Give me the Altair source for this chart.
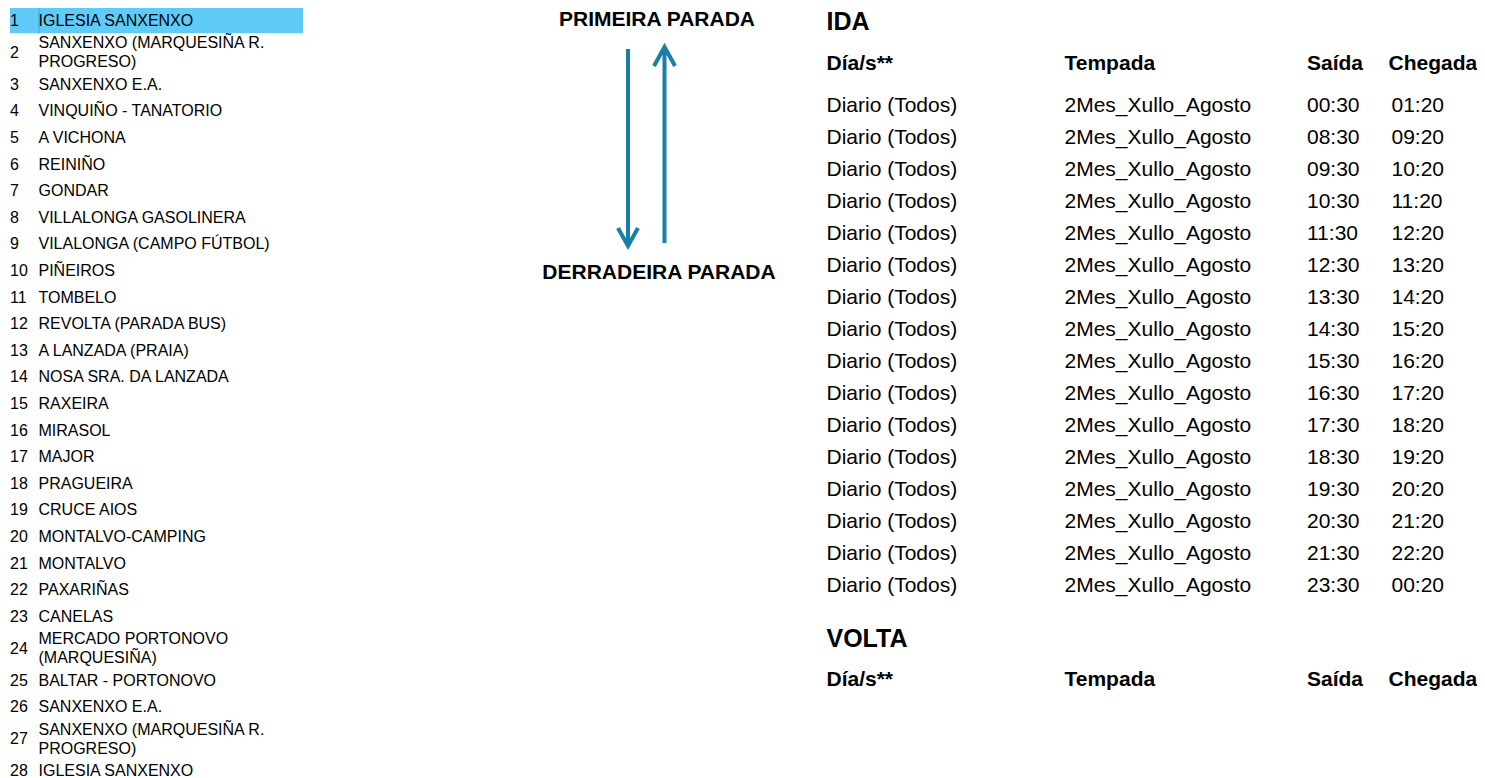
import altair as alt
import pandas as pd

FONT = "Liberation Sans"

# ---------------- data ----------------
stop_numbers = list(range(1, 29))
stop_names = [
    "IGLESIA SANXENXO",
    "SANXENXO (MARQUESIÑA R.\nPROGRESO)",
    "SANXENXO E.A.",
    "VINQUIÑO - TANATORIO",
    "A VICHONA",
    "REINIÑO",
    "GONDAR",
    "VILLALONGA GASOLINERA",
    "VILALONGA (CAMPO FÚTBOL)",
    "PIÑEIROS",
    "TOMBELO",
    "REVOLTA (PARADA BUS)",
    "A LANZADA (PRAIA)",
    "NOSA SRA. DA LANZADA",
    "RAXEIRA",
    "MIRASOL",
    "MAJOR",
    "PRAGUEIRA",
    "CRUCE AIOS",
    "MONTALVO-CAMPING",
    "MONTALVO",
    "PAXARIÑAS",
    "CANELAS",
    "MERCADO PORTONOVO\n(MARQUESIÑA)",
    "BALTAR - PORTONOVO",
    "SANXENXO E.A.",
    "SANXENXO (MARQUESIÑA R.\nPROGRESO)",
    "IGLESIA SANXENXO",
]
highlighted_stop = 1

ida_title = "IDA"
volta_title = "VOLTA"
headers = ["Día/s**", "Tempada", "Saída", "Chegada"]
dias = ["Diario (Todos)", "Diario (Todos)", "Diario (Todos)", "Diario (Todos)",
        "Diario (Todos)", "Diario (Todos)", "Diario (Todos)", "Diario (Todos)",
        "Diario (Todos)", "Diario (Todos)", "Diario (Todos)", "Diario (Todos)",
        "Diario (Todos)", "Diario (Todos)", "Diario (Todos)", "Diario (Todos)"]
tempadas = ["2Mes_Xullo_Agosto"] * 16
saidas = ["00:30", "08:30", "09:30", "10:30", "11:30", "12:30", "13:30", "14:30",
          "15:30", "16:30", "17:30", "18:30", "19:30", "20:30", "21:30", "23:30"]
chegadas = ["01:20", "09:20", "10:20", "11:20", "12:20", "13:20", "14:20", "15:20",
            "16:20", "17:20", "18:20", "19:20", "20:20", "21:20", "22:20", "00:20"]

first_stop_label = "PRIMEIRA PARADA"
last_stop_label = "DERRADEIRA PARADA"

# ---------------- layout / style ----------------
W, H = 1469, 772
ARROW = "#177fa8"
HILITE = "#5ecbf9"
ROW_UNIT = 26.6         # px per single-line stop row
DOUBLE = 1.4            # height of a two-line row, in row units
LINE_H = 19

# stop list table: cumulative row positions in "row units"
heights = [DOUBLE if "\n" in n else 1.0 for n in stop_names]
tops = []
acc = 0.0
for h in heights:
    tops.append(acc)
    acc += h
total_units = acc
stops = pd.DataFrame({
    "num": [str(n) for n in stop_numbers],
    "name": stop_names,
    "lines": [n.count("\n") + 1 for n in stop_names],
    "top": tops,
    "bottom": [t + h for t, h in zip(tops, heights)],
    "mid": [t + h / 2 for t, h in zip(tops, heights)],
})
stop_scale = alt.Scale(domain=[0, total_units],
                       range=[-1.3, -1.3 + total_units * ROW_UNIT])

num_layer = alt.Chart(stops).mark_text(
    font=FONT, fontSize=16, align="left", baseline="middle", dy=1, color="#000"
).encode(x=alt.value(2), y=alt.Y("mid:Q", scale=stop_scale, axis=None), text="num:N")

name_single = alt.Chart(stops[stops["lines"] == 1]).mark_text(
    font=FONT, fontSize=16, align="left", baseline="middle", dy=1, color="#000"
).encode(x=alt.value(30.5), y=alt.Y("mid:Q", scale=stop_scale, axis=None), text="name:N")

name_double = alt.Chart(stops[stops["lines"] == 2]).mark_text(
    font=FONT, fontSize=16, align="left", baseline="middle", dy=1 - LINE_H / 2,
    color="#000", lineBreak="\n", lineHeight=LINE_H
).encode(x=alt.value(30.5), y=alt.Y("mid:Q", scale=stop_scale, axis=None), text="name:N")

hl = stops[stops["num"] == str(highlighted_stop)]
hl_rect = alt.Chart(hl).mark_rect(color=HILITE).encode(
    x=alt.value(2), x2=alt.value(295),
    y=alt.Y("top:Q", scale=stop_scale, axis=None), y2="bottom:Q")
hl_sep = alt.Chart(hl).mark_rule(color="#3fa9dc", strokeWidth=1).encode(
    x=alt.value(31), y=alt.Y("top:Q", scale=stop_scale, axis=None), y2="bottom:Q")

# ---------------- timetable ----------------
tt = pd.DataFrame({"row": list(range(len(saidas))), "dia": dias, "tempada": tempadas,
                   "saida": saidas, "chegada": chegadas})
tt_scale = alt.Scale(domain=[0, len(saidas) - 1], range=[103.5, 103.5 + 32 * (len(saidas) - 1)])
col_x = [818.5, 1056.5, 1299, 1383.5]
head_x = [818.5, 1056.5, 1299, 1380.5]
col_fields = ["dia", "tempada", "saida", "chegada"]
tt_layers = [
    alt.Chart(tt).mark_text(font=FONT, fontSize=21, align="left",
                            baseline="alphabetic", color="#000").encode(
        x=alt.value(cx), y=alt.Y("row:Q", scale=tt_scale, axis=None), text=f"{f}:N")
    for cx, f in zip(col_x, col_fields)
]

one = pd.DataFrame({"k": [0]})


def label(text, x, y, size, bold=True, align="left", baseline="alphabetic"):
    return alt.Chart(one).mark_text(
        font=FONT, fontSize=size, fontWeight="bold" if bold else "normal",
        align=align, baseline=baseline, color="#000", text=text
    ).encode(x=alt.value(x), y=alt.value(y))


title_layers = [label(ida_title, 818.5, 22, 25), label(volta_title, 818.5, 639, 25)]
for cx, htxt in zip(head_x, headers):
    title_layers.append(label(htxt, cx, 61.5, 21))
    title_layers.append(label(htxt, cx, 677.5, 21))

first_lbl = label(first_stop_label, 649, 12, 21, align="center", baseline="middle")
last_lbl = label(last_stop_label, 651, 265, 21, align="center", baseline="middle")
clip = alt.Chart(one).mark_rect(color="white").encode(
    x=alt.value(515), x2=alt.value(533), y=alt.value(247), y2=alt.value(284))

down_arrow = alt.Chart(one).mark_point(
    shape="M0,-9.85L0,9.85M-1,8.05L0,9.85L1,8.05", filled=False, strokeWidth=4,
    size=400, color=ARROW, opacity=1, strokeJoin="miter"
).encode(x=alt.value(620), y=alt.value(139.5))
up_arrow = alt.Chart(one).mark_point(
    shape="M0,9.8L0,-9.8M-1.05,-7.9L0,-9.8L1.05,-7.9", filled=False, strokeWidth=4,
    size=400, color=ARROW, opacity=1, strokeJoin="miter"
).encode(x=alt.value(656.5), y=alt.value(137))

chart = alt.layer(
    hl_rect, hl_sep, num_layer, name_single, name_double,
    *tt_layers, *title_layers,
    first_lbl, last_lbl, clip, down_arrow, up_arrow
).resolve_scale(y="independent").properties(
    width=W, height=H, padding=0, autosize=alt.AutoSizeParams(type="none")
).configure_view(strokeWidth=0)

chart.save("out.html", embed_options={"renderer": "svg", "actions": False})
